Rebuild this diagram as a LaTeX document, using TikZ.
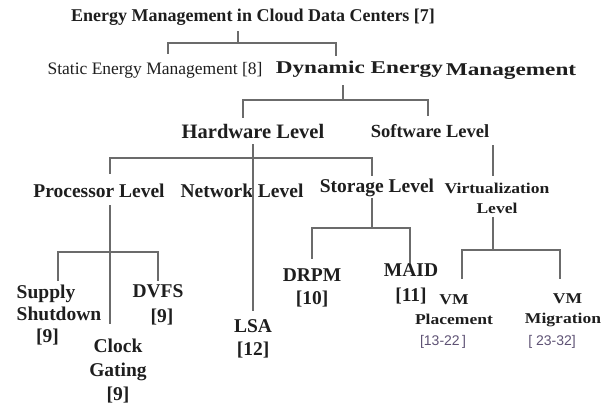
\documentclass[tikz,border=0pt]{standalone}
\usepackage{fontspec}
\setmainfont{Liberation Serif}
\newfontfamily\refsans{Liberation Sans}
\newfontfamily\dynfont[FakeStretch=1.29]{Liberation Serif}
\newfontfamily\vmfont[FakeStretch=1.17]{Liberation Serif}
\definecolor{TreeGray}{HTML}{6B6B6B}
\definecolor{TreeText}{HTML}{1E1E1E}
\definecolor{RefPurple}{HTML}{5E5274}

\begin{document}
\begin{tikzpicture}[x=1pt,y=-1pt,line cap=rect,
  conn/.style={draw=TreeGray,line width=1.6pt},
  lbl/.style={text=TreeText,font=\fontsize{19.5}{21}\selectfont\bfseries,inner sep=0pt},
  small/.style={text=TreeText,font=\vmfont\fontsize{15}{20}\selectfont\bfseries,inner sep=0pt,align=center},
  cite/.style={text=RefPurple,font=\fontsize{14}{16}\selectfont\refsans}]
  \useasboundingbox (0,0) rectangle (604,410);
  % levels of the tree
  \node[lbl,font=\fontsize{18}{19}\selectfont\bfseries] (root) at (253,17) {Energy Management in Cloud Data Centers [7]};
  \node[lbl,font=\fontsize{17.5}{19}\selectfont] (static) at (155,70) {Static Energy Management [8]};
  \node[lbl,font=\dynfont\fontsize{18}{19}\selectfont\bfseries] (dynamic) at (426,70) {Dynamic Energy\,\raisebox{-2pt}{Management}};
  \node[lbl,font=\fontsize{20.5}{21}\selectfont\bfseries] (hw) at (253,131) {Hardware Level};
  \node[lbl,font=\fontsize{18.5}{21}\selectfont\bfseries] (sw) at (430,131) {Software Level};
  \node[lbl] (proc) at (99,191) {Processor Level};
  \node[lbl] (net) at (242,191) {Network Level};
  \node[lbl] (stor) at (377,188) {Storage Level};
  \node[small,font=\vmfont\fontsize{15}{20}\selectfont\bfseries] (virt) at (497,198) {Virtualization\\Level};
  % leaves
  \node[lbl,align=left,font=\fontsize{19.5}{22}\selectfont\bfseries] (supply) at (59,315) {Supply\\Shutdown\\\hspace*{1em}[9]};
  \node[lbl,align=center,font=\fontsize{19.5}{24}\selectfont\bfseries] (clock) at (118,371) {Clock\\Gating\\{}[9]};
  \node[lbl,align=center,font=\fontsize{19.5}{25}\selectfont\bfseries] (dvfs) at (158,305) {DVFS\\\hspace*{0.4em}[9]};
  \node[lbl,align=center,font=\fontsize{19.5}{23}\selectfont\bfseries] (lsa) at (253,339) {LSA\\{}[12]};
  \node[lbl,align=center,font=\fontsize{19.5}{23}\selectfont\bfseries] (drpm) at (312,288) {DRPM\\{}[10]};
  \node[lbl,align=center,font=\fontsize{19.5}{25}\selectfont\bfseries] (maid) at (411,284) {MAID\\{}[11]};
  \node[small] (place) at (454,310) {VM\\Placement};
  \node[small] (migr) at (563,310) {\hspace*{0.6em}VM\\Migration};
  \node[cite] (placeref) at (443,342) {[13-22\,]};
  \node[cite] (migrref) at (552,342) {[ 23-32]};
  % bracket corners
  \coordinate (rootbar) at (238,43);
  \coordinate (staticTop) at (168,53);
  \coordinate (dynTop) at (336,55);
  \coordinate (dynbar) at (343,100);
  \coordinate (hwTop) at (243,117);
  \coordinate (swTop) at (428,115);
  \coordinate (hwbar) at (253,158);
  \coordinate (procTop) at (110,173);
  \coordinate (storTop) at (372,175);
  \coordinate (procbar) at (110,252);
  \coordinate (procEnd) at (110,323);
  \coordinate (supplyTop) at (58,280);
  \coordinate (dvfsTop) at (158,280);
  \coordinate (lsaEnd) at (253,310);
  \coordinate (storbar) at (372,228);
  \coordinate (drpmTop) at (312,258);
  \coordinate (maidTop) at (410,262);
  \coordinate (virtTop) at (493,175);
  \coordinate (virtbar) at (493,250);
  \coordinate (placeTop) at (462,278);
  \coordinate (migrTop) at (560,278);
  % connectors
  \draw[conn] (root.south -| rootbar) ++(0,6) -- (rootbar);
  \draw[conn] (staticTop) |- (rootbar) -| (dynTop);
  \draw[conn] (dynamic.south -| dynbar) ++(0,6) -- (dynbar);
  \draw[conn] (hwTop) |- (dynbar) -| (swTop);
  \draw[conn] (hw.south -| hwbar) ++(0,6) -- (hwbar);
  \draw[conn] (procTop) |- (hwbar) -| (storTop);
  \draw[conn] (hwbar) -- (lsaEnd);
  \draw[conn] (proc.south -| procbar) ++(0,8) -- (procEnd);
  \draw[conn] (supplyTop) |- (procbar) -| (dvfsTop);
  \draw[conn] (stor.south -| storbar) ++(0,2) -- (storbar);
  \draw[conn] (drpmTop) |- (storbar) -| (maidTop);
  \draw[conn] (sw.south -| virtTop) ++(0,8) -- (virtTop);
  \draw[conn] (virt.south -| virtbar) ++(0,4) -- (virtbar);
  \draw[conn] (placeTop) |- (virtbar) -| (migrTop);
\end{tikzpicture}
\end{document}
